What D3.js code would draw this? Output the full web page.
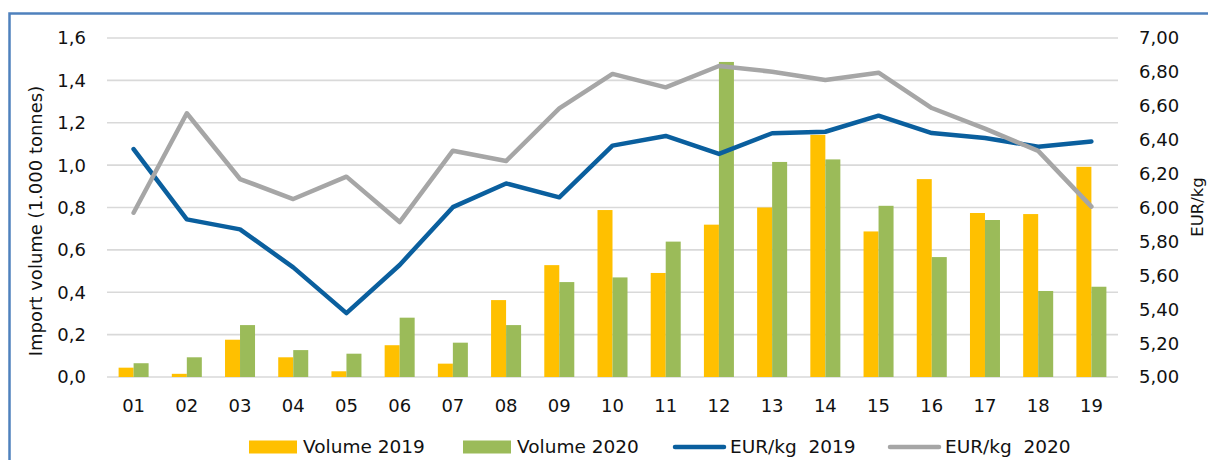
<!DOCTYPE html>
<html>
<head>
<meta charset="utf-8">
<script src="https://cdn.jsdelivr.net/npm/d3@7"></script>
<style>
    body { margin: 0; background: #fff; }
    svg { display: block; font-family: "DejaVu Sans", Verdana, sans-serif; }
</style>
</head>
<body>
<svg id="chart" width="1208" height="460"></svg>
<script>
// Данные графика
const weeks = ['01', '02', '03', '04', '05', '06', '07', '08', '09', '10',
    '11', '12', '13', '14', '15', '16', '17', '18', '19'];
const volume2019 = [0.044, 0.015, 0.176, 0.093, 0.027, 0.150, 0.063, 0.363, 0.528, 0.788,
    0.491, 0.719, 0.800, 1.143, 0.687, 0.934, 0.774, 0.769, 0.992];
const volume2020 = [0.065, 0.093, 0.245, 0.127, 0.110, 0.280, 0.162, 0.245, 0.448, 0.470,
    0.639, 1.487, 1.015, 1.027, 0.808, 0.566, 0.741, 0.406, 0.426];
const price2019 = [6.345, 5.930, 5.871, 5.647, 5.377, 5.661, 6.002, 6.142, 6.060, 6.365,
    6.422, 6.316, 6.438, 6.447, 6.542, 6.439, 6.410, 6.359, 6.390];
const price2020 = [5.969, 6.556, 6.168, 6.050, 6.182, 5.914, 6.335, 6.274, 6.585, 6.788,
    6.709, 6.835, 6.801, 6.752, 6.795, 6.587, 6.465, 6.334, 6.005];
const leftTicks = [0, 0.2, 0.4, 0.6, 0.8, 1.0, 1.2, 1.4, 1.6];
const rightTicks = [5.0, 5.2, 5.4, 5.6, 5.8, 6.0, 6.2, 6.4, 6.6, 6.8, 7.0];

const colors = {
    v2019: '#ffc000',
    v2020: '#9bbb59',
    p2019: '#0a5f9e',
    p2020: '#a6a6a6'
};

const svg = d3.select('#chart');

// Рамка
svg.append('rect')
    .attr('x', 9.5).attr('y', 13.5)
    .attr('width', 1300).attr('height', 600)
    .attr('fill', 'none')
    .attr('stroke', '#4f81bd')
    .attr('stroke-width', 2.5);

// Шкалы
const plotLeft = 107, plotRight = 1118, plotTop = 38, plotBottom = 377;

const x0 = d3.scaleBand()
    .domain(weeks)
    .range([plotLeft, plotRight])
    .paddingInner(0.436)
    .paddingOuter(0.218);

const x1 = d3.scaleBand()
    .domain(['2019', '2020'])
    .range([0, x0.bandwidth()]);

const yLeft = d3.scaleLinear().domain([0, 1.6]).range([plotBottom, plotTop]);
const yRight = d3.scaleLinear().domain([5, 7]).range([plotBottom, plotTop]);

const fmt1 = d3.format('.1f');
const fmt2 = d3.format('.2f');
const comma = s => s.replace('.', ',');

// Сетка
svg.append('g')
    .selectAll('line')
    .data(leftTicks)
    .enter().append('line')
    .attr('x1', plotLeft).attr('x2', plotRight)
    .attr('y1', d => yLeft(d)).attr('y2', d => yLeft(d))
    .attr('stroke', '#d9d9d9')
    .attr('stroke-width', 1.6);

// Подписи левой оси
svg.append('g')
    .selectAll('text')
    .data(leftTicks)
    .enter().append('text')
    .attr('x', 86)
    .attr('y', d => yLeft(d))
    .attr('dy', '0.36em')
    .attr('text-anchor', 'end')
    .attr('font-size', 18)
    .attr('fill', '#111')
    .text(d => comma(fmt1(d)));

// Подписи правой оси
svg.append('g')
    .selectAll('text')
    .data(rightTicks)
    .enter().append('text')
    .attr('x', 1139)
    .attr('y', d => yRight(d))
    .attr('dy', '0.36em')
    .attr('text-anchor', 'start')
    .attr('font-size', 18)
    .attr('fill', '#111')
    .text(d => comma(fmt2(d)));

// Подписи оси X
svg.append('g')
    .selectAll('text')
    .data(weeks)
    .enter().append('text')
    .attr('x', d => x0(d) + x0.bandwidth() / 2)
    .attr('y', 411.5)
    .attr('text-anchor', 'middle')
    .attr('font-size', 18)
    .attr('fill', '#111')
    .text(d => d);

// Названия осей
svg.append('text')
    .attr('transform', 'translate(41.5,221) rotate(-90)')
    .attr('text-anchor', 'middle')
    .attr('font-size', 18)
    .attr('fill', '#111')
    .text('Import volume (1.000 tonnes)');

svg.append('text')
    .attr('transform', 'translate(1203,207) rotate(-90)')
    .attr('text-anchor', 'middle')
    .attr('font-size', 16.5)
    .attr('fill', '#111')
    .text('EUR/kg');

// Столбцы
const bars = svg.append('g');
bars.selectAll('.bar2019')
    .data(volume2019)
    .enter().append('rect')
    .attr('x', (d, i) => x0(weeks[i]) + x1('2019'))
    .attr('y', d => yLeft(d))
    .attr('width', x1.bandwidth())
    .attr('height', d => plotBottom - yLeft(d))
    .attr('fill', colors.v2019);

bars.selectAll('.bar2020')
    .data(volume2020)
    .enter().append('rect')
    .attr('x', (d, i) => x0(weeks[i]) + x1('2020'))
    .attr('y', d => yLeft(d))
    .attr('width', x1.bandwidth())
    .attr('height', d => plotBottom - yLeft(d))
    .attr('fill', colors.v2020);

// Линии цен
const line = d3.line()
    .x((d, i) => x0(weeks[i]) + x0.bandwidth() / 2)
    .y(d => yRight(d));

svg.append('path')
    .datum(price2019)
    .attr('d', line)
    .attr('fill', 'none')
    .attr('stroke', colors.p2019)
    .attr('stroke-width', 4.5)
    .attr('stroke-linejoin', 'round')
    .attr('stroke-linecap', 'round');

svg.append('path')
    .datum(price2020)
    .attr('d', line)
    .attr('fill', 'none')
    .attr('stroke', colors.p2020)
    .attr('stroke-width', 4.5)
    .attr('stroke-linejoin', 'round')
    .attr('stroke-linecap', 'round');

// Легенда
const legend = svg.append('g').attr('font-size', 18.5).attr('fill', '#111');
const legendItems = [
    { label: 'Volume 2019', type: 'rect', color: colors.v2019, x: 249 },
    { label: 'Volume 2020', type: 'rect', color: colors.v2020, x: 463 },
    { label: 'EUR/kg  2019', type: 'line', color: colors.p2019, x: 675 },
    { label: 'EUR/kg  2020', type: 'line', color: colors.p2020, x: 890 }
];

legendItems.forEach(item => {
    if (item.type === 'rect') {
        legend.append('rect')
            .attr('x', item.x).attr('y', 440.5)
            .attr('width', 48).attr('height', 13)
            .attr('fill', item.color);
        legend.append('text')
            .attr('x', item.x + 54).attr('y', 453)
            .text(item.label);
    } else {
        legend.append('line')
            .attr('x1', item.x).attr('x2', item.x + 49)
            .attr('y1', 447).attr('y2', 447)
            .attr('stroke', item.color)
            .attr('stroke-width', 4.5)
            .attr('stroke-linecap', 'round');
        legend.append('text')
            .attr('x', item.x + 55).attr('y', 453)
            .attr('xml:space', 'preserve')
            .style('white-space', 'pre')
            .text(item.label);
    }
});
</script>
</body>
</html>
